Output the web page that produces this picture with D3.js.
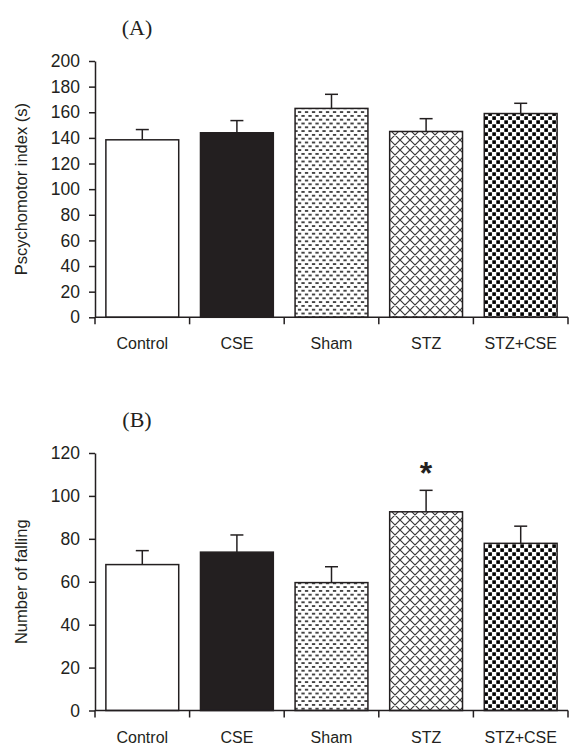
<!DOCTYPE html>
<html>
<head>
<meta charset="utf-8">
<script src="https://cdn.jsdelivr.net/npm/d3@7"></script>
<style>
  html, body { margin: 0; padding: 0; background: #fff; }
  svg { display: block; }
</style>
</head>
<body>
<svg id="chart" width="569" height="746"></svg>
<script>
// ---- data ----
const categories = ["Control", "CSE", "Sham", "STZ", "STZ+CSE"];
const psychomotorMeans = [138.5, 144, 163, 145, 159];
const psychomotorErrors = [8, 9.5, 11, 10, 8];
const fallingMeans = [68, 73.8, 59.6, 92.6, 77.9];
const fallingErrors = [6.5, 8, 7.4, 10, 8];
const fallingSignificant = ["STZ"];
const ticksA = [0, 20, 40, 60, 80, 100, 120, 140, 160, 180, 200];
const ticksB = [0, 20, 40, 60, 80, 100, 120];

const svg = d3.select("#chart");
const ink = "#231f20";
const sans = "'Liberation Sans', Arial, sans-serif";
const serif = "'Liberation Serif', 'Times New Roman', serif";

// ---- patterns ----
const defs = svg.append("defs");
// Sham: staggered short dashes
const pSham = defs.append("pattern").attr("id", "pSham").attr("patternUnits", "userSpaceOnUse")
  .attr("width", 7).attr("height", 7.6);
pSham.append("rect").attr("width", 7).attr("height", 7.6).attr("fill", "#fff");
pSham.append("rect").attr("x", 0.4).attr("y", 1.1).attr("width", 3.3).attr("height", 1.6).attr("fill", "#222");
pSham.append("rect").attr("x", 3.9).attr("y", 4.9).attr("width", 3.3).attr("height", 1.6).attr("fill", "#222");
pSham.append("rect").attr("x", -3.1).attr("y", 4.9).attr("width", 3.3).attr("height", 1.6).attr("fill", "#222");
// STZ: diagonal cross-hatch
const pSTZ = defs.append("pattern").attr("id", "pSTZ").attr("patternUnits", "userSpaceOnUse")
  .attr("width", 10).attr("height", 10);
pSTZ.append("rect").attr("width", 10).attr("height", 10).attr("fill", "#fff");
pSTZ.append("path").attr("d", "M0,0 L10,10 M-1,9 L1,11 M9,-1 L11,1 M10,0 L0,10 M-1,1 L1,-1 M9,11 L11,9")
  .attr("stroke", "#3a3a3a").attr("stroke-width", 1.2).attr("fill", "none");
// STZ+CSE: checkerboard
const pChk = defs.append("pattern").attr("id", "pChk").attr("patternUnits", "userSpaceOnUse")
  .attr("width", 8).attr("height", 8);
pChk.append("rect").attr("width", 8).attr("height", 8).attr("fill", "#fff");
pChk.append("rect").attr("x", 0.3).attr("y", 0.3).attr("width", 3.6).attr("height", 3.6).attr("fill", "#000");
pChk.append("rect").attr("x", 4.3).attr("y", 4.3).attr("width", 3.6).attr("height", 3.6).attr("fill", "#000");

const fills = {
  "Control": "#ffffff",
  "CSE": ink,
  "Sham": "url(#pSham)",
  "STZ": "url(#pSTZ)",
  "STZ+CSE": "url(#pChk)"
};

function panel(opts) {
  const g = svg.append("g");
  const x0 = 95, x1 = 568;
  const xAxisScale = d3.scaleBand().domain(categories).range([x0, x1]).padding(0);
  const xBar = d3.scaleBand().domain(categories).range([x0, x1]).paddingInner(0.23).paddingOuter(0.115);
  const y = d3.scaleLinear().domain([0, opts.max]).range([opts.bottom, opts.top]);

  const data = categories.map((c, i) => ({ c, m: opts.means[i], e: opts.errors[i] }));
  // error bars
  g.selectAll(".err").data(data).join("g").each(function (d) {
    const cx = xBar(d.c) + xBar.bandwidth() / 2;
    const s = d3.select(this);
    s.append("line").attr("x1", cx).attr("x2", cx).attr("y1", y(d.m)).attr("y2", y(d.m + d.e))
      .attr("stroke", ink).attr("stroke-width", 1.5);
    s.append("line").attr("x1", cx - 6.5).attr("x2", cx + 6.5).attr("y1", y(d.m + d.e)).attr("y2", y(d.m + d.e))
      .attr("stroke", ink).attr("stroke-width", 1.5);
  });
  // bars
  g.selectAll(".bar").data(data).join("rect")
    .attr("x", d => xBar(d.c))
    .attr("y", d => y(d.m))
    .attr("width", xBar.bandwidth())
    .attr("height", d => y(0) - y(d.m))
    .attr("fill", d => fills[d.c])
    .attr("stroke", ink).attr("stroke-width", 1.5);

  // y axis
  const yAx = g.append("g").attr("transform", `translate(${x0},0)`)
    .call(d3.axisLeft(y).tickValues(opts.ticks).tickSize(6).tickPadding(9).tickSizeOuter(0));
  yAx.select(".domain").attr("stroke", ink).attr("stroke-width", 1.5);
  yAx.selectAll(".tick line").attr("stroke", ink).attr("stroke-width", 1.5);
  yAx.selectAll(".tick text")
    .style("font-size", "17.5px").style("font-family", sans).attr("fill", ink);

  // x axis
  const xg = g.append("g").attr("transform", `translate(0,${opts.bottom})`);
  xg.append("line").attr("x1", x0).attr("x2", x1).attr("y1", 0).attr("y2", 0)
    .attr("stroke", ink).attr("stroke-width", 1.5);
  const bounds = categories.map(c => xAxisScale(c)).concat([x1]);
  xg.selectAll(".xt").data(bounds).join("line")
    .attr("x1", d => d).attr("x2", d => d).attr("y1", 0).attr("y2", 7)
    .attr("stroke", ink).attr("stroke-width", 1.5);
  xg.selectAll(".xl").data(categories).join("text")
    .attr("x", c => xAxisScale(c) + xAxisScale.bandwidth() / 2)
    .attr("y", 32)
    .attr("text-anchor", "middle")
    .attr("fill", ink)
    .style("font-family", sans).style("font-size", "16px")
    .text(c => c);

  // y title
  g.append("text")
    .attr("transform", `translate(26.5,${(opts.top + opts.bottom) / 2}) rotate(-90)`)
    .attr("text-anchor", "middle")
    .attr("fill", ink)
    .style("font-family", sans).style("font-size", "16.5px")
    .text(opts.ytitle);

  // panel label
  g.append("text")
    .attr("x", 137).attr("y", opts.labelY)
    .attr("text-anchor", "middle")
    .attr("fill", ink)
    .style("font-family", serif).style("font-size", "22px")
    .text(opts.label);

  // significance
  if (opts.sig) {
    g.selectAll(".sig").data(data.filter(d => opts.sig.includes(d.c))).join("text")
      .attr("x", d => xBar(d.c) + xBar.bandwidth() / 2)
      .attr("y", d => y(d.m + d.e) - 6)
      .attr("text-anchor", "middle")
      .attr("fill", ink)
      .style("font-family", sans).style("font-size", "32px").style("font-weight", "bold")
      .text("*");
  }
}

panel({ means: psychomotorMeans, errors: psychomotorErrors, max: 200, ticks: ticksA,
  top: 61, bottom: 317.3, ytitle: "Pscychomotor index (s)", label: "(A)", labelY: 35 });
panel({ means: fallingMeans, errors: fallingErrors, max: 120, ticks: ticksB,
  top: 453, bottom: 710.5, ytitle: "Number of falling", label: "(B)", labelY: 427, sig: fallingSignificant });
</script>
</body>
</html>
